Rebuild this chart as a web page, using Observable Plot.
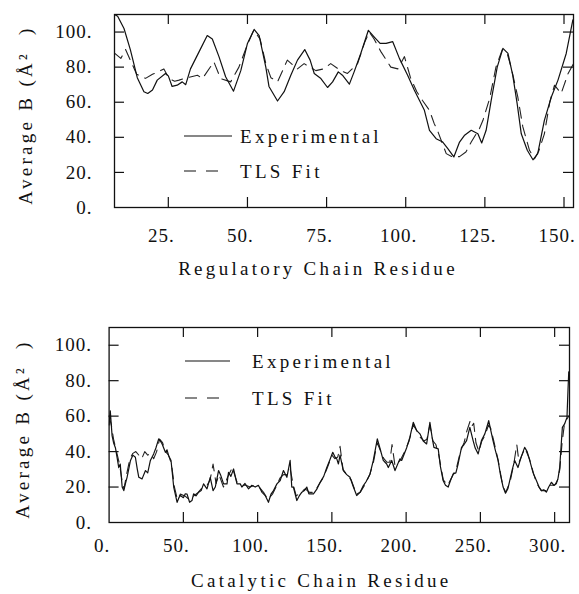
<!DOCTYPE html>
<html><head><meta charset="utf-8">
<script src="https://cdn.jsdelivr.net/npm/d3@7"></script>
<script src="https://cdn.jsdelivr.net/npm/@observablehq/plot@0.6"></script>
<style>
body{margin:0;background:#fff}
#wrap{position:relative;width:579px;height:594px;overflow:hidden}
#wrap svg{position:absolute;left:0}
#wrap svg text{font-family:"Liberation Serif",serif}
</style>
</head><body><div id="wrap"></div>
<script>
// ---------- Regulatory chain (top panel) ----------
const regExpX = [8,9,11,13,15.2,17.3,18.5,20,21.5,24.1,25,26.2,27.8,29.4,30.5,32,34.7,37.3,38.9,41,43.1,45.6,47.9,50,52.1,53.7,55.8,56.8,59.5,61.6,63.7,65.8,68.1,69.8,71.1,73.2,75.3,76.9,78.7,80,82.2,83.7,85.8,88.2,90,91.9,93.8,95.9,98,100.6,102.7,103.8,105.9,107.5,109.6,111.7,113.3,115.2,117,118.5,120.7,122.8,124,125.4,127,128.9,130.7,132.3,133.8,135.2,136.5,138.4,140.2,141.7,143.8,146,148.1,150.7,152.8];
const regExpY = [110,109,102,90,74,66,65,67,72.6,76.4,75,69,69.7,71.6,70,79,88.7,98,96,86,74.5,66.3,78,93.5,101.5,98,80,69,60.7,66,75.4,84,90,84,76.4,73.5,68.4,71.6,77.3,75.4,70.3,77.3,87.8,101,97.3,93.5,93.5,94.5,85,75.4,67,63,55.4,44,39.2,37.3,33.5,28.8,37.3,41,44,42,36.8,44,61,80,90.7,87.8,75.4,59.2,42,32.6,27.2,30.7,49.7,63,72.6,87.8,107];
const regTlsX = [8,10,11.5,13,15,17.8,20,21.5,23.6,25.2,27,28.4,31,34.2,35.8,39.4,41.5,44.7,47.3,50,52,54,55.8,57.4,59.5,62.6,65.8,67.9,71.6,74,76.3,79.5,81.6,84.8,87,88.5,90,92.2,95.3,97.5,99.6,101.5,103.5,105.3,107.5,109,110,112.8,114.8,117,119,120.7,123.3,124.4,126.5,128.5,130.5,132,133.3,135.4,137,139.1,140.7,142,143.8,145.5,147,149.1,151.3,153];
const regTlsY = [88,85,90,84,76,73.6,76,77,79,73.5,72,72.6,74,75.4,73.5,83,73.5,71.6,80,93,101,96,82,74,71.6,84,79,82,78,79,82,78,76.4,82,94,100,96,88.7,80,79,86,74,66,61,55.4,47.8,44,30.7,28.8,29,31.6,37.3,45,49.7,62,80,90,88,80,63,45.9,32.6,27.8,32,42,60,69.7,65,76.4,82];
const regXTicks = [25,50,75,100,125,150];
const yTicks = [0,20,40,60,80,100];

// ---------- Catalytic chain (bottom panel) ----------
const catExpX = [0,0.8,2,3,4.3,5.5,6.5,7.5,8.8,9.9,11,12.1,14.4,16,17.7,19,20,22.2,24.5,26,27.8,30,31.5,33.4,34.5,35.7,37.9,39,40.1,41.7,43.5,45.8,47,48,50,51.3,52.5,54.2,55.8,56.9,58.5,60.3,62,63.6,65.9,68.1,70,71.5,73.7,75,77.1,79.4,80.4,82,83.8,86.1,88.3,89.4,91.5,93.9,96,98.4,100.5,103,105.1,107.3,109,110.7,113,115.2,117.4,119.7,121.9,123,124.1,126.4,128,129.8,131.5,133.1,134.5,137.6,140,142.1,144.5,146.6,148.5,150.6,152.2,153.3,154.4,155.5,157.7,160,162.2,164.5,166.7,169,171.2,173,175.7,177.9,180.6,182,184.6,186.9,188,190.3,192.5,195.8,197,200.3,202.5,204.8,207,209.3,211.5,213.8,216,217.5,218.7,221.6,223,224.9,226.5,228.3,230,231.7,233.5,235,237.3,239,240.7,242.9,245.1,246.5,248.5,250.7,253,255.6,257,258.5,260,261.9,263.5,265.3,266.9,268.5,269.8,271.5,273.1,275.3,277.5,279.8,281.5,283.2,285.5,287.7,289.5,291.1,292.7,294.4,296,297.8,299.5,301.1,302.3,303.4,304.5,305.2,306.7,308.3,309,309.5];
const catExpY = [55,63,49,45,42,36,31,33,20,18,22,25.5,35,38,36.8,30,25.5,24.6,29.3,28,35,38.7,42,47.2,46,44.3,39.6,41,37.7,35,20,11.4,14,15.2,14,16.2,16,11.4,12.4,16.2,15,17.1,18,21.8,19,25.5,18,20,29.3,27,21.8,21.8,28.3,26,30.2,21.8,21.8,20,22,19,21,20,21,17,15.2,11.4,16,18,21.8,23.7,29.3,25.5,35,20,20,12.4,15,17.1,18,20,16.2,16.2,19,22.7,26,31,35,39.6,36.8,35.9,33,38,29.3,27,25.5,20,15.2,17,20.8,23,27.4,35,47.2,43,35,33,31,35,29.3,35.9,35,42,48,56.5,52,50,46,44.3,56.5,48,42.4,41.5,32,23.7,21,20,24,27.4,28,33,42.4,44,46.2,53.7,46.2,42,38.7,46.2,50,57.5,52,46.2,41,35,27,20,16.5,19,23.7,30,35,31,37,42.4,40,35,28,23.7,20,18,18.5,17.1,20,22.7,21,21.8,25,31,45,53.7,55.6,59.3,75,85];
const catTlsX = [0,1.5,3,5,7,9,10,12,14,16,18,20,22,24,26,28,30,32,34,36,38,40,42,44,46,48,51,54,57,60,63,66,68,70,72,74,77,80,83,86,89,92,95,98,101,104,107,110,113,115,117.5,120,122,124,126,129,132,135,138,141,144,147,150,152,154,155.5,157.5,160,163,166.5,169,172,175.5,178,180.5,183,185,187,189,190.5,192.5,196,199,202,204.8,207,209.5,212,214,216,218,220,222,225,228,231,234,236.5,239,241,243,244,245.5,247,249,251,253,255.5,257,259,262,265,267,270,272.5,274.5,276,278,280,283,286,288,291,294,297,300,302,303.5,305,306.5,308,309.5];
const catTlsY = [60,55,47,40,33,22,19,28,36,39,40,38,36,40,38,39,36,40,47,45,40,38,33,20,13,16,15,13,15,17,20,21,24,33,22,27,20,26,31,23,21,21,20,21,20,17,13,16,21,25,27,27,30,21,15,17,19,17,17,21,25,31,38,36,37,43,30,27,24,16,17,21,27,34,45,40,36,34,34,44,32,35,40,46,55,52,48,46,47,55,46,44,38,24,21,26,31,40,45,52,57,54,56,45,40,46,49,55,53,46,35,21,17,23,33,44,34,38,42,36,27,22,18,18,21,21,24,30,45,55,58,60];
const catXTicks = [0,50,100,150,200,250,300];

const yTitle = "Average B (Å\u00b2\u00a0\u00a0)";
const regTitle = "Regulatory Chain Residue";
const catTitle = "Catalytic Chain Residue";
const legendLabels = ["Experimental", "TLS Fit"];

const FONT = "Liberation Serif";
const FS = 19;
const dash = "11,7";

function panel(cfg) {
  const W = 579;
  const fh = cfg.height - cfg.mt - cfg.mb;
  const fw = W - cfg.ml - cfg.mr;
  const exp = cfg.expX.map((x, i) => ({x, y: cfg.expY[i]}));
  const tls = cfg.tlsX.map((x, i) => ({x, y: cfg.tlsY[i]}));
  const inner = cfg.xTicks.filter(t => t > cfg.xDomain[0] && t < cfg.xDomain[1]);
  const innerY = yTicks.filter(t => t > 0 && t < 110);
  const TL = 10;
  return Plot.plot({
    width: W, height: cfg.height,
    marginLeft: cfg.ml, marginRight: cfg.mr, marginTop: cfg.mt, marginBottom: cfg.mb,
    style: {fontFamily: FONT, fontSize: FS + "px", color: "#111", background: "white", overflow: "visible"},
    x: {domain: cfg.xDomain},
    y: {domain: [0, 110]},
    marks: [
      Plot.line(tls, {x: "x", y: "y", stroke: "#222", strokeWidth: 1.1, strokeDasharray: dash, clip: true}),
      Plot.line(exp, {x: "x", y: "y", stroke: "#111", strokeWidth: 1.2, clip: true}),
      Plot.tickX(inner, {x: d => d, insetTop: fh - TL, stroke: "#111", strokeWidth: 1.2}),
      Plot.tickX(inner, {x: d => d, insetBottom: fh - TL, stroke: "#111", strokeWidth: 1.2}),
      Plot.tickY(innerY, {y: d => d, insetLeft: 0, insetRight: fw - TL, stroke: "#111", strokeWidth: 1.2}),
      Plot.tickY(innerY, {y: d => d, insetLeft: fw - TL, stroke: "#111", strokeWidth: 1.2}),
      Plot.frame({stroke: "#111", strokeWidth: 1.3}),
      Plot.axisX({ticks: cfg.xTicks, tickSize: 0, tickPadding: cfg.xpad, tickFormat: d => d + ".", label: null, fontSize: FS, dx: -7, fill: "#111"}),
      Plot.axisY({ticks: yTicks, tickSize: 0, tickPadding: cfg.ypad, tickFormat: d => d + ".", label: null, fontSize: FS, fill: "#111"}),
      Plot.text([yTitle], {text: d => d, frameAnchor: "left", textAnchor: "middle", lineAnchor: "middle", rotate: -90, dx: cfg.ytdx, dy: cfg.ytdy, fontSize: FS, fontFamily: FONT, fill: "#111"}),
      Plot.text([cfg.title], {text: d => d, frameAnchor: "bottom", textAnchor: "middle", lineAnchor: "middle", dy: cfg.xtdy, dx: cfg.xtdx, fontSize: FS, fontFamily: FONT, fill: "#111"})
    ]
  });
}

const wrap = document.getElementById("wrap");
const top1 = panel({height: 300, ml: 114, mr: 6, mt: 14, mb: 93, xDomain: [8, 153],
  expX: regExpX, expY: regExpY, tlsX: regTlsX, tlsY: regTlsY, xTicks: regXTicks,
  xpad: 21, ypad: 22, ytdx: -89, ytdy: 4, title: regTitle, xtdy: 61, xtdx: -26});
top1.style.top = "0px";
wrap.appendChild(top1);
const bot = panel({height: 294, ml: 108.6, mr: 10, mt: 27, mb: 72, xDomain: [0, 310],
  expX: catExpX, expY: catExpY, tlsX: catTlsX, tlsY: catTlsY, xTicks: catXTicks,
  xpad: 16, ypad: 17, ytdx: -86, ytdy: 4, title: catTitle, xtdy: 58, xtdx: -18});
bot.style.top = "300px";
wrap.appendChild(bot);

// letter spacing (plotting-font look)
d3.select(wrap).selectAll("svg text").each(function() {
  const t = this.textContent;
  const wide = t === regTitle || t === catTitle || t === yTitle;
  d3.select(this).style("letter-spacing", wide ? "3.3px" : "1px");
});

// legends (inside plot frames)
const ov = d3.select(wrap).append("svg").attr("width", 579).attr("height", 594).style("top", "0px")
  .style("font-family", FONT).style("font-size", FS + "px");
const legendPos = [
  {x1: 184, x2s: 232, x2d: 220, ys: [136, 171], tx: 240},
  {x1: 185, x2s: 230, x2d: 222, ys: [361, 398], tx: 252}
];
legendPos.forEach(p => {
  legendLabels.forEach((lab, i) => {
    ov.append("line").attr("x1", p.x1).attr("x2", i ? p.x2d : p.x2s)
      .attr("y1", p.ys[i]).attr("y2", p.ys[i]).attr("stroke", "#111").attr("stroke-width", 1.2)
      .attr("stroke-dasharray", i ? "12,10" : null);
    ov.append("text").attr("x", p.tx).attr("y", p.ys[i]).attr("dy", "0.35em")
      .attr("fill", "#111").style("letter-spacing", "3.3px").text(lab);
  });
});
</script></body></html>
